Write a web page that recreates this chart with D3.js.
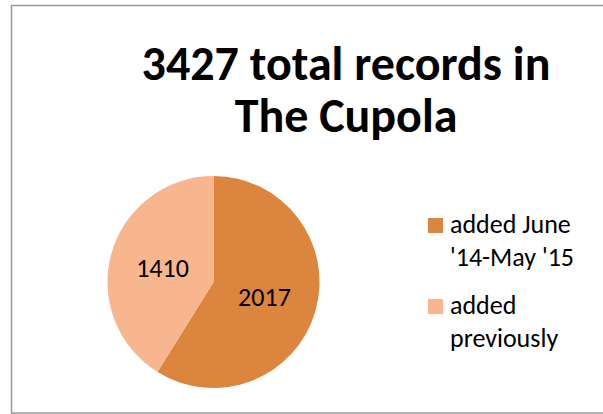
<!DOCTYPE html>
<html>
<head>
<meta charset="UTF-8">
<script src="https://cdn.jsdelivr.net/npm/d3@7"></script>
<style>
  html, body { margin:0; padding:0; background:#fff; overflow:hidden; }
  svg { display:block; }
  text { font-family: Carlito, Calibri, Lato, "Open Sans", sans-serif; }
</style>
</head>
<body>
<script>
var categories = ["added June '14-May '15", "added previously"];
var legendLines = [["added June", "'14-May '15"], ["added", "previously"]];
var values = [2017, 1410];
var titleLines = ["3427 total records in", "The Cupola"];
var colors = ["#DC853F", "#F8B68F"];

var svg = d3.select("body").append("svg")
    .attr("width", 603).attr("height", 414);

// chart frame
svg.append("rect")
    .attr("x", 11.5).attr("y", 5.5)
    .attr("width", 600).attr("height", 407.5)
    .attr("fill", "#fff")
    .attr("stroke", "#999").attr("stroke-width", 1.5);

// title
svg.append("g").selectAll("text")
    .data(titleLines)
    .enter().append("text")
    .attr("x", 346)
    .attr("y", function(d, i){ return 80 + i * 52; })
    .attr("text-anchor", "middle")
    .attr("font-weight", "bold")
    .attr("font-size", "48px")
    .attr("fill", "#000")
    .text(function(d){ return d; });

// pie
var cx = 213.5, cy = 282, r = 106;
var pie = d3.pie().sort(null).value(function(d){ return d; });
var arc = d3.arc().innerRadius(0).outerRadius(r);
var arcs = pie(values);

var gPie = svg.append("g").attr("transform", "translate(" + cx + "," + cy + ")");
gPie.selectAll("path")
    .data(arcs)
    .enter().append("path")
    .attr("d", arc)
    .attr("fill", function(d, i){ return colors[i]; });

gPie.selectAll("text")
    .data(arcs)
    .enter().append("text")
    .attr("transform", function(d){ return "translate(" + arc.centroid(d) + ")"; })
    .attr("dy", "0.35em")
    .attr("text-anchor", "middle")
    .attr("font-size", "26px")
    .attr("fill", "#000")
    .text(function(d){ return d.data; });

// legend
var gLeg = svg.append("g");
var legItem = gLeg.selectAll("g")
    .data(categories)
    .enter().append("g")
    .attr("transform", function(d, i){ return "translate(428," + (218 + i * 81) + ")"; });
legItem.append("rect")
    .attr("width", 15).attr("height", 15)
    .attr("fill", function(d, i){ return colors[i]; });
legItem.each(function(d, i){
    d3.select(this).selectAll("text")
        .data(legendLines[i])
        .enter().append("text")
        .attr("x", 22)
        .attr("y", function(t, j){ return 15 + j * 33; })
        .attr("font-size", "26px")
        .attr("fill", "#000")
        .text(function(t){ return t; });
});
</script>
</body>
</html>
